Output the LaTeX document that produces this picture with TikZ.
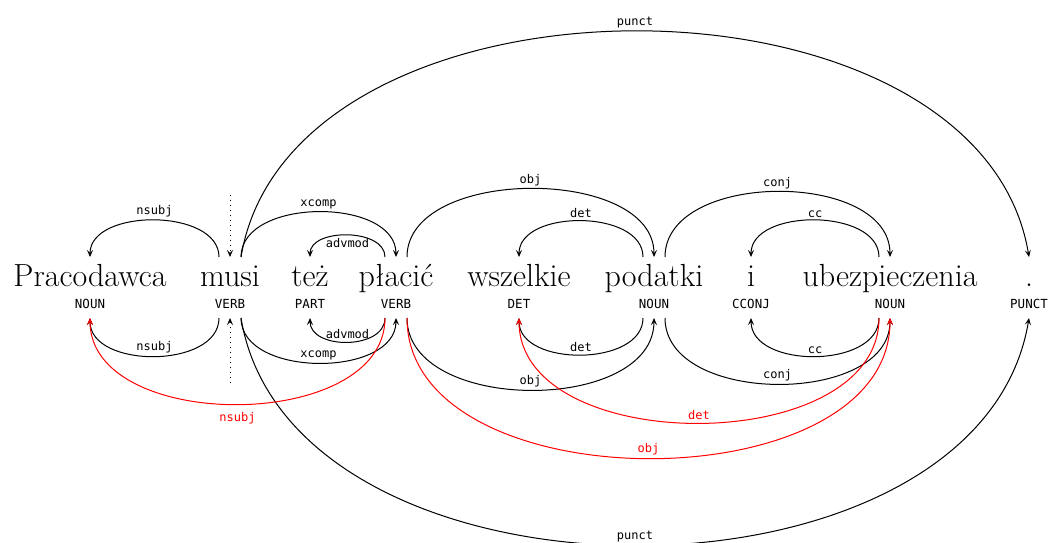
\documentclass[tikz,border=0pt]{standalone}
\usepackage{fontspec}
\newfontfamily\tagfont{DejaVu Sans Mono}
\usetikzlibrary{arrows.meta}
\begin{document}
\begin{tikzpicture}[x=1pt,y=-1pt,
  word/.style={anchor=base, inner sep=0pt, font=\fontsize{32}{34}\selectfont},
  tag/.style={anchor=base, inner sep=0pt, font=\tagfont\fontsize{12.5}{14}\selectfont},
  lbl/.style={font=\tagfont\fontsize{12}{13}\selectfont, inner sep=1pt},
  arc/.style={line width=1pt, -{Stealth[length=7pt,width=6pt,inset=3pt]}},
  redarc/.style={arc, draw=red, text=red},
  rootarr/.style={line width=1pt, dash pattern=on 1pt off 4pt, -{Stealth[length=7pt,width=6pt,inset=3pt]}}
]
\useasboundingbox (0,0) rectangle (1049,543);

% words
\node[word] (w1) at (90,286) {Pracodawca};
\node[word] (w2) at (230,286) {musi};
\node[word] (w3) at (310,286) {też};
\node[word] (w4) at (396,286) {płacić};
\node[word] (w5) at (519,286) {wszelkie};
\node[word] (w6) at (654,286) {podatki};
\node[word] (w7) at (751,286) {i};
\node[word] (w8) at (890,286) {ubezpieczenia};
\node[word] (w9) at (1029,286) {.};

% tags
\node[tag] (t1) at (90,308) {NOUN};
\node[tag] (t2) at (230,308) {VERB};
\node[tag] (t3) at (310,308) {PART};
\node[tag] (t4) at (396,308) {VERB};
\node[tag] (t5) at (519,308) {DET};
\node[tag] (t6) at (654,308) {NOUN};
\node[tag] (t7) at (751,308) {CCONJ};
\node[tag] (t8) at (890,308) {NOUN};
\node[tag] (t9) at (1029,308) {PUNCT};

% arc end points
\foreach \n in {w1,w2,w3,w4,w5,w6,w7,w8,w9} {
  \path (\n.base) ++(0,-29) coordinate (\n-t) ++(-11,0) coordinate (\n-tl) ++(22,0) coordinate (\n-tr);
  \path (\n.base) ++(0,32) coordinate (\n-b) ++(-11,0) coordinate (\n-bl) ++(22,0) coordinate (\n-br);
}
\coordinate (roottop) at (230,195);
\coordinate (rootbot) at (230,383);

% root markers
\draw[rootarr] (roottop) -- (w2-t);
\draw[rootarr] (rootbot) -- (w2-b);

% upper arcs
\draw[arc] (w2-tl) .. controls +(0,-49) and +(0,-49) .. (w1-t) node[midway, above=1.5pt, lbl] {nsubj};
\draw[arc] (w2-tr) .. controls +(0,-60) and +(0,-60) .. (w4-t) node[midway, above=1.5pt, lbl] {xcomp};
\draw[arc] (w4-tl) .. controls +(0,-29) and +(0,-29) .. (w3-t) node[midway, below=1.5pt, lbl] {advmod};
\draw[arc] (w2-tr) .. controls +(50,-301) and +(-50,-301) .. (w9-t) node[midway, above=1.5pt, lbl] {punct};
\draw[arc] (w4-tr) .. controls +(0,-91) and +(0,-91) .. (w6-t) node[midway, above=1.5pt, lbl] {obj};
\draw[arc] (w6-tl) .. controls +(0,-48) and +(0,-48) .. (w5-t) node[midway, above=1.5pt, lbl] {det};
\draw[arc] (w6-tr) .. controls +(0,-87) and +(0,-87) .. (w8-t) node[midway, above=1.5pt, lbl] {conj};
\draw[arc] (w8-tl) .. controls +(0,-49) and +(0,-49) .. (w7-t) node[midway, above=1.5pt, lbl] {cc};

% lower arcs
\draw[arc] (w2-bl) .. controls +(0,51) and +(0,51) .. (w1-b) node[midway, above=1.5pt, lbl] {nsubj};
\draw[arc] (w2-br) .. controls +(0,60) and +(0,60) .. (w4-b) node[midway, above=1.5pt, lbl] {xcomp};
\draw[arc] (w4-bl) .. controls +(0,32) and +(0,32) .. (w3-b) node[midway, above=1.5pt, lbl] {advmod};
\draw[arc] (w2-br) .. controls +(50,303) and +(-50,303) .. (w9-b) node[midway, above=1.5pt, lbl] {punct};
\draw[arc] (w4-br) .. controls +(0,96) and +(0,96) .. (w6-b) node[midway, above=1.5pt, lbl] {obj};
\draw[arc] (w6-bl) .. controls +(0,49) and +(0,49) .. (w5-b) node[midway, above=1.5pt, lbl] {det};
\draw[arc] (w6-br) .. controls +(0,88) and +(0,88) .. (w8-b) node[midway, above=1.5pt, lbl] {conj};
\draw[arc] (w8-bl) .. controls +(0,51) and +(0,51) .. (w7-b) node[midway, above=1.5pt, lbl] {cc};

% red lower arcs
\draw[redarc] (w4-bl) .. controls +(0,115) and +(0,115) .. (w1-b) node[midway, below=7pt, lbl] {nsubj};
\draw[redarc] (w8-bl) .. controls +(0,140) and +(0,140) .. (w5-b) node[midway, above=1.5pt, lbl] {det};
\draw[redarc] (w4-br) .. controls +(0,187) and +(0,187) .. (w8-b) node[midway, above=1.5pt, lbl] {obj};
\end{tikzpicture}
\end{document}
